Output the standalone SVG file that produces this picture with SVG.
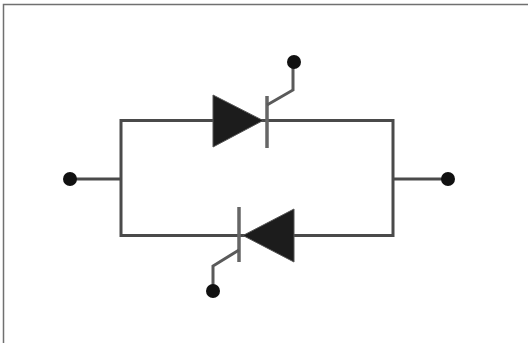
<svg xmlns="http://www.w3.org/2000/svg" width="528" height="343" viewBox="0 0 528 343">
<style>
.w{fill:none;stroke:#4a4a4a;stroke-width:3}
.b{fill:none;stroke:#666;stroke-width:3.5}
.g{fill:none;stroke:#5a5a5a;stroke-width:3}
.t{fill:#1c1c1c;stroke:#555;stroke-width:1}
.d{fill:#111}
</style>
<rect width="528" height="343" fill="#fff"/>
<path d="M3.500 343V4.500H528" fill="none" stroke="#707070" stroke-width="1.500"/>
<g id="connectors">
<path class="w" d="M121 120.500H393V235.500H121Z"/>
<path class="w" d="M70 179H121M393 179H448"/>
</g>
<g id="thyristor-top">
<polygon class="t" points="213,95 263,120.500 213,147"/>
<path class="b" d="M267 96V148"/>
<path class="g" d="M267 105L293 90V62"/>
</g>
<g id="thyristor-bottom">
<polygon class="t" points="294,209 243,235.500 294,262"/>
<path class="b" d="M239 207V262"/>
<path class="g" d="M239 250L213 266V291"/>
</g>
<g id="terminal-left"><circle class="d" cx="70" cy="179" r="7"/></g>
<g id="terminal-right"><circle class="d" cx="448" cy="179" r="7"/></g>
<g id="terminal-top"><circle class="d" cx="294" cy="62" r="7"/></g>
<g id="terminal-bottom"><circle class="d" cx="213" cy="291" r="7"/></g>
</svg>
